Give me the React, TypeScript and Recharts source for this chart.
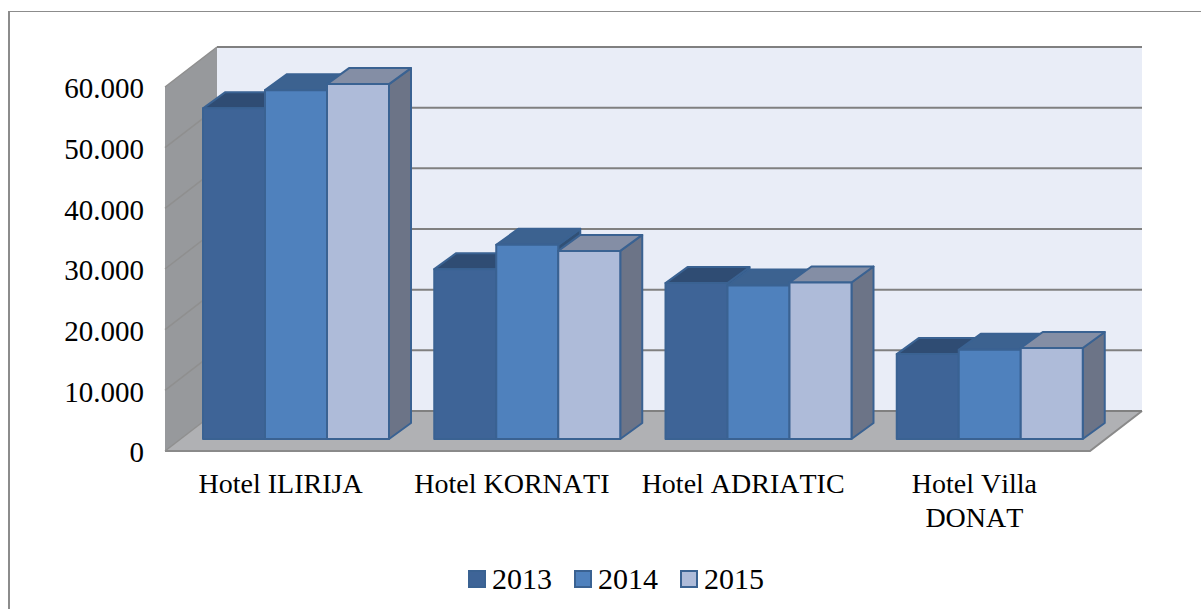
import { BarChart, Bar, XAxis, YAxis, CartesianGrid, Legend } from 'recharts';

const categories = ['Hotel ILIRIJA', 'Hotel KORNATI', 'Hotel ADRIATIC', 'Hotel Villa DONAT'];
const values2013 = [54500, 28000, 25700, 14000];
const values2014 = [57500, 32000, 25300, 14700];
const values2015 = [58500, 31000, 25800, 15000];
const yTicks = [0, 10000, 20000, 30000, 40000, 50000, 60000];

const data = categories.map((name, i) => ({
  name,
  y2013: values2013[i],
  y2014: values2014[i],
  y2015: values2015[i],
}));

const FONT = '"Liberation Serif", "Times New Roman", serif';
const LEFT = 165;
const RIGHT = 1090;
const TOP = 87;
const BOTTOM = 451;
// depth of the box the chart sits in
const BOX_DX = 52;
const BOX_DY = -40;
// bars stand a little way into the floor
const BAR_SHIFT_X = 15;
const BAR_SHIFT_Y = -12;
const BAR_DX = 22;
const BAR_DY = -16;

// Back wall, side wall and floor of the fake 3D box, sits behind the transparent chart
function Room() {
  const pts = (p: number[][]) => p.map((q) => q.join(',')).join(' ');
  return (
    <svg width={1201} height={609} style={{ position: 'absolute', left: 0, top: 0 }}>
      <polygon
        points={pts([[LEFT + BOX_DX, TOP + BOX_DY], [RIGHT + BOX_DX, TOP + BOX_DY], [RIGHT + BOX_DX, BOTTOM + BOX_DY], [LEFT + BOX_DX, BOTTOM + BOX_DY]])}
        fill="#e9edf7"
      />
      <polygon
        points={pts([[LEFT, TOP], [LEFT + BOX_DX, TOP + BOX_DY], [LEFT + BOX_DX, BOTTOM + BOX_DY], [LEFT, BOTTOM]])}
        fill="#97999c"
      />
      <polygon
        points={pts([[LEFT, BOTTOM], [LEFT + BOX_DX, BOTTOM + BOX_DY], [RIGHT + BOX_DX, BOTTOM + BOX_DY], [RIGHT, BOTTOM]])}
        fill="#b0b1b4"
      />
      <polyline points={pts([[LEFT, BOTTOM], [RIGHT, BOTTOM], [RIGHT + BOX_DX, BOTTOM + BOX_DY]])} fill="none" stroke="#8a8a8a" strokeWidth={2} />
    </svg>
  );
}

function GridLine(props: any) {
  const { x1, x2, y1 } = props;
  const by = y1 + BOX_DY;
  return (
    <g fill="none">
      <line x1={x1} y1={y1} x2={x1 + BOX_DX} y2={by} stroke="#8f8f8f" strokeWidth={1.5} />
      <line x1={x1 + BOX_DX} y1={by} x2={x2 + BOX_DX} y2={by} stroke="#808080" strokeWidth={2} />
    </g>
  );
}

function darken(hex: string, f: number) {
  const n = parseInt(hex.slice(1), 16);
  const c = [(n >> 16) & 255, (n >> 8) & 255, n & 255].map((v) => Math.round(v * f));
  return `rgb(${c[0]},${c[1]},${c[2]})`;
}

function Box3D(props: any) {
  const { x, y, width, height, fill } = props;
  const l = x + BAR_SHIFT_X;
  const t = y + BAR_SHIFT_Y;
  const r = l + width;
  const b = t + height;
  return (
    <g stroke="#3a6292" strokeWidth={2} strokeLinejoin="round">
      <polygon points={`${r},${t} ${r + BAR_DX},${t + BAR_DY} ${r + BAR_DX},${b + BAR_DY} ${r},${b}`} fill={darken(fill, 0.62)} />
      <polygon points={`${l},${t} ${l + BAR_DX},${t + BAR_DY} ${r + BAR_DX},${t + BAR_DY} ${r},${t}`} fill={darken(fill, 0.76)} />
      <rect x={l} y={t} width={width} height={height} fill={fill} />
    </g>
  );
}

function CategoryTick(props: any) {
  const { x, y, payload } = props;
  const words = String(payload.value).split(' ');
  const lines = words.length > 2 ? [words.slice(0, 2).join(' '), words.slice(2).join(' ')] : [words.join(' ')];
  return (
    <text x={x} y={y} textAnchor="middle" fontFamily={FONT} fontSize={28} fill="#000" style={{ fontKerning: 'none' }}>
      {lines.map((line, i) => (
        <tspan key={line} x={x} dy={i === 0 ? 0 : 34}>{line}</tspan>
      ))}
    </text>
  );
}

function LegendRow({ payload }: any) {
  return (
    <div style={{ display: 'flex', justifyContent: 'flex-start', fontFamily: FONT, fontSize: 30, color: '#000', lineHeight: '34px' }}>
      {payload.map((entry: any) => (
        <div key={entry.value} style={{ display: 'flex', alignItems: 'center', width: 106 }}>
          <span style={{ width: 14, height: 14, background: entry.color, border: '2px solid #3a6292', marginRight: 6 }} />
          {entry.value}
        </div>
      ))}
    </div>
  );
}

export default function App() {
  return (
    <div style={{ position: 'fixed', left: 0, top: 0, width: 1201, height: 609, background: '#fff', overflow: 'hidden' }}>
      <div style={{ position: 'absolute', left: 8, top: 11, width: 1193, height: 620, borderLeft: '2px solid #8c8c8c', borderTop: '1px solid #8c8c8c' }} />
      <Room />
      <BarChart
        width={1201}
        height={609}
        data={data}
        margin={{ top: TOP, right: 1201 - RIGHT, bottom: 18, left: 0 }}
        barCategoryGap={23}
        barGap={0}
        style={{ position: 'absolute', left: 0, top: 0 }}
      >
        <CartesianGrid vertical={false} horizontal={(p: any) => <GridLine key={p.key ?? p.y1} {...p} />} />
        <XAxis dataKey="name" height={100} axisLine={false} tickLine={false} interval={0} tick={<CategoryTick />} tickSize={0} tickMargin={42} />
        <YAxis
          width={LEFT}
          domain={[0, 60000]}
          ticks={yTicks}
          axisLine={false}
          tickLine={false}
          tickSize={0}
          tickMargin={21}
          tickFormatter={(v: number) => (v === 0 ? '0' : `${v / 1000}.000`)}
          tick={{ fontFamily: FONT, fontSize: 29, fill: '#000', dy: 1 }}
        />
        <Legend
          height={40}
          content={<LegendRow />}
          wrapperStyle={{ left: 468, bottom: 7, width: 340 }}
        />
        <Bar dataKey="y2013" name="2013" fill="#3e6497" shape={<Box3D />} isAnimationActive={false} />
        <Bar dataKey="y2014" name="2014" fill="#4f81bd" shape={<Box3D />} isAnimationActive={false} />
        <Bar dataKey="y2015" name="2015" fill="#aebbd9" shape={<Box3D />} isAnimationActive={false} />
      </BarChart>
    </div>
  );
}
